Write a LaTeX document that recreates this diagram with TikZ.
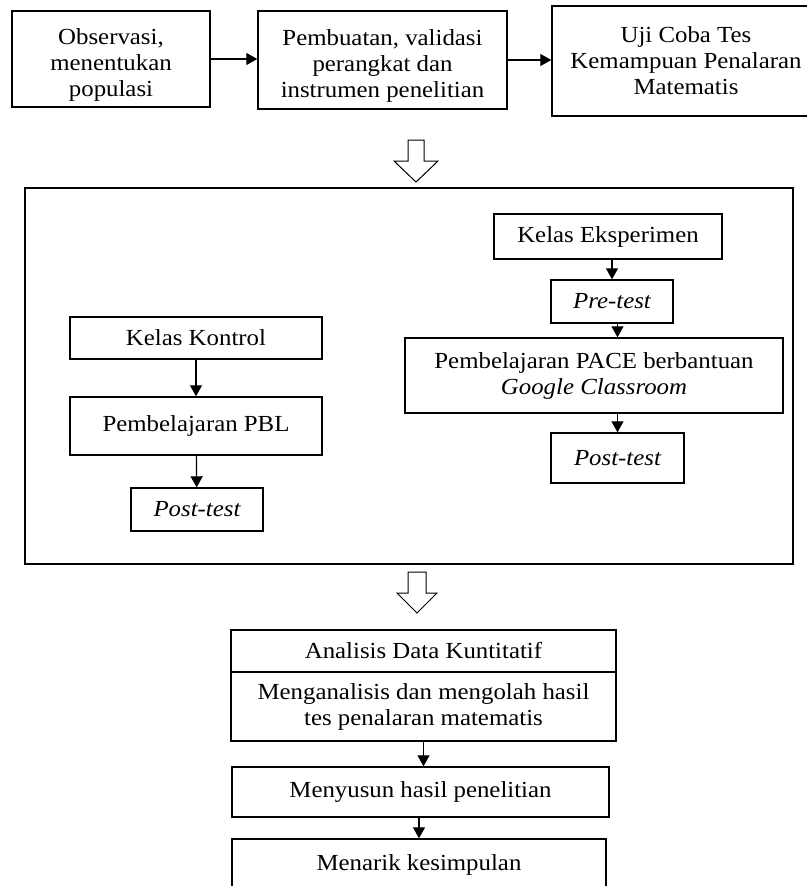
\documentclass[tikz,border=0pt]{standalone}
\usepackage{fontspec}
\setmainfont[FakeStretch=1.08]{Liberation Serif}
\usetikzlibrary{arrows.meta}
\newcommand{\strutup}{\rule{0pt}{27pt}}
\begin{document}
\begin{tikzpicture}[x=1pt, y=-1pt, line width=1.4pt,
	box/.style = {draw, rectangle, align=center, inner sep=0pt, font=\fontsize{23}{26}\selectfont},
	arr/.style = {-{Triangle[length=11pt, width=12pt]}, line width=1.2pt},
	hollow/.style = {draw, line width=1pt, line join=miter}]
	\useasboundingbox (0,0) rectangle (806,886);

	\node[box, minimum width=198, minimum height=96] (obs) at (111,59) {\strutup Observasi,\\menentukan\\populasi};
	\node[box, minimum width=249, minimum height=98] (buat) at (382.5,60) {\strutup Pembuatan, validasi\\perangkat dan\\instrumen penelitian};
	\node[box, minimum width=268, minimum height=110] (uji) at (686,61) {Uji Coba Tes\\Kemampuan Penalaran\\Matematis};

	\coordinate (turun1) at (416,140);
	\draw[hollow] (turun1) ++(-8,0) -- ++(16,0) -- ++(0,21) -- ++(14,0) -- ++(-22,21) -- ++(-22,-21) -- ++(14,0) -- cycle;

	\node[draw, minimum width=768, minimum height=376, inner sep=0pt] (frame) at (409,376) {};

	\node[box, minimum width=252, minimum height=42] (kontrol) at (196,338) {Kelas Kontrol};
	\node[box, minimum width=252, minimum height=58] (pbl) at (196,426) {Pembelajaran PBL};
	\node[box, minimum width=132, minimum height=43] (postk) at (197,509.5) {\itshape Post-test};

	\node[box, minimum width=228, minimum height=45] (eksp) at (608,236.5) {Kelas Eksperimen};
	\node[box, minimum width=122, minimum height=43] (pre) at (612,301.5) {\itshape Pre-test};
	\node[box, minimum width=378, minimum height=75] (pace) at (594,375.5) {Pembelajaran PACE berbantuan\\\itshape Google Classroom};
	\node[box, minimum width=133, minimum height=50] (poste) at (617.5,458) {\itshape Post-test};

	\coordinate (turun2) at (417,572);
	\draw[hollow] (turun2) ++(-9,0) -- ++(18,0) -- ++(0,21) -- ++(11,0) -- ++(-20,20) -- ++(-20,-20) -- ++(11,0) -- cycle;

	\node[box, minimum width=385, minimum height=42] (analisis) at (423.5,651) {Analisis Data Kuntitatif};
	\node[box, minimum width=385, minimum height=69] (olah) at (423.5,706.5) {Menganalisis dan mengolah hasil\\tes penalaran matematis};
	\node[box, minimum width=377, minimum height=50] (susun) at (420.5,792) {Menyusun hasil penelitian};
	\node[box, minimum width=374, minimum height=52] (tarik) at (419,865) {Menarik kesimpulan};

	\draw[arr] (obs.east) -- (obs.east -| buat.west);
	\draw[arr] (buat.east) -- (buat.east -| uji.west);
	\draw[arr] (kontrol) -- (pbl);
	\draw[arr] (pbl) -- (postk);
	\draw[arr] (eksp.south -| pre) -- (pre.north);
	\draw[arr] (pre.south -| poste) -- (pace.north -| poste);
	\draw[arr] (pace.south -| poste) -- (poste.north);
	\draw[arr] (olah.south) -- (olah.south |- susun.north);
	\draw[arr] (susun.south -| tarik) -- (tarik.north);
\end{tikzpicture}
\end{document}
